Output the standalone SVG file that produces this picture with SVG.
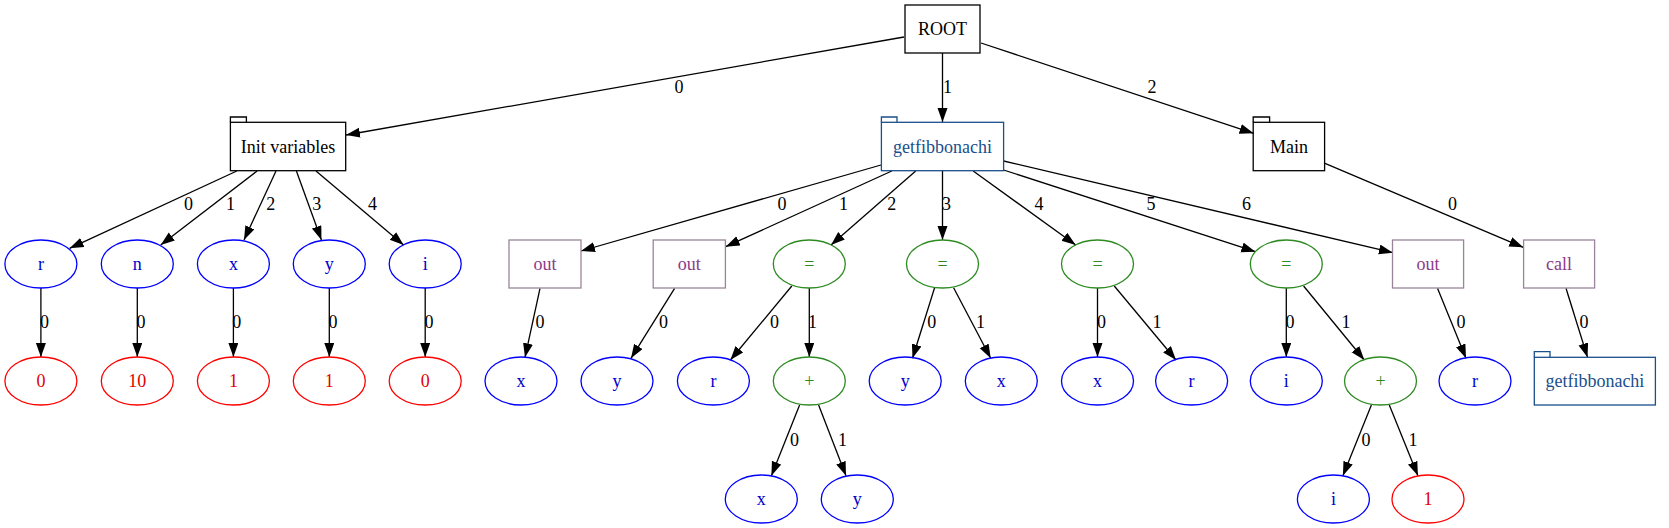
<svg xmlns="http://www.w3.org/2000/svg" width="1669" height="528" viewBox="0 0 1669 528" font-family="'Liberation Serif','Times New Roman','DejaVu Serif',serif">
<defs>
<marker id="ah" markerUnits="userSpaceOnUse" markerWidth="16" markerHeight="12" refX="14" refY="5" orient="auto">
<path d="M0,0 L14,5 L0,10 z" fill="#000"/>
</marker>
<style>
text{font-family:'Liberation Serif','Times New Roman','DejaVu Serif',serif;font-size:18px;text-anchor:middle}
.e line{stroke:#000;stroke-width:1.3;marker-end:url(#ah)}
.lbl{fill:#000}
.blk rect,.blk path{fill:none;stroke:#000;stroke-width:1.3}
.blk text{fill:#000}
.fn rect,.fn path{fill:none;stroke:#1a4f8b;stroke-width:1.3}
.fn text{fill:#1a4f8b}
.var ellipse{fill:none;stroke:#0000ff;stroke-width:1.3}
.var text{fill:#0000cc}
.num ellipse{fill:none;stroke:#ff0000;stroke-width:1.3}
.num text{fill:#e00000}
.op ellipse{fill:none;stroke:#2e8b22;stroke-width:1.3}
.op text{fill:#2e8b22}
.io rect{fill:none;stroke:#9a849a;stroke-width:1.3}
.io text{fill:#8b3a8b}
</style>
</defs>
<rect width="1669" height="528" fill="#fff"/>

<g id="connectors" class="e">
<line x1="904" y1="37" x2="346" y2="135"/>
<line x1="942.5" y1="53" x2="942.5" y2="122"/>
<line x1="981" y1="43" x2="1253.6" y2="133.3"/>
<line x1="236.8" y1="171" x2="69.6" y2="248.3"/>
<line x1="257.1" y1="171" x2="160.7" y2="245"/>
<line x1="276" y1="171" x2="244" y2="240"/>
<line x1="296.4" y1="171" x2="321.4" y2="240"/>
<line x1="316" y1="171" x2="403.6" y2="245"/>
<line x1="881" y1="165" x2="581" y2="251"/>
<line x1="891.8" y1="171" x2="725.7" y2="246.7"/>
<line x1="915.7" y1="171" x2="831" y2="245"/>
<line x1="942.5" y1="171" x2="942.5" y2="240"/>
<line x1="973.2" y1="171" x2="1075.7" y2="245"/>
<line x1="1003.6" y1="170" x2="1255.4" y2="251.7"/>
<line x1="1003.6" y1="161" x2="1392.9" y2="252.7"/>
<line x1="1325" y1="163.3" x2="1523.2" y2="247.3"/>
<line x1="40.9" y1="288" x2="40.9" y2="357"/>
<line x1="137.3" y1="288" x2="137.3" y2="357"/>
<line x1="233.4" y1="288" x2="233.4" y2="357"/>
<line x1="329.3" y1="288" x2="329.3" y2="357"/>
<line x1="425.2" y1="288" x2="425.2" y2="357"/>
<line x1="540" y1="288.3" x2="525" y2="357.3"/>
<line x1="674.6" y1="288.3" x2="631" y2="358.3"/>
<line x1="791.8" y1="286" x2="730.4" y2="360"/>
<line x1="809.3" y1="288" x2="809.3" y2="357"/>
<line x1="934.6" y1="287.7" x2="912.5" y2="358.3"/>
<line x1="953.6" y1="287.7" x2="990.7" y2="358.3"/>
<line x1="1097.5" y1="288" x2="1097.5" y2="357"/>
<line x1="1114.3" y1="286" x2="1176" y2="360"/>
<line x1="1286.3" y1="288" x2="1286.3" y2="357"/>
<line x1="1303.6" y1="286" x2="1364.3" y2="360"/>
<line x1="1437.5" y1="288.3" x2="1466" y2="358.3"/>
<line x1="1566" y1="288.3" x2="1587.5" y2="357.3"/>
<line x1="799.6" y1="405" x2="771.4" y2="475.7"/>
<line x1="818.6" y1="405" x2="846" y2="475.7"/>
<line x1="1371.4" y1="405" x2="1342.9" y2="475.7"/>
<line x1="1389.3" y1="405" x2="1417.9" y2="475.7"/>
<g class="lbl">
<text x="679" y="93">0</text>
<text x="947.5" y="93">1</text>
<text x="1152" y="93">2</text>
<text x="188.6" y="210">0</text>
<text x="230.4" y="210">1</text>
<text x="270.7" y="210">2</text>
<text x="316.8" y="210">3</text>
<text x="372.5" y="210">4</text>
<text x="782" y="210">0</text>
<text x="843.6" y="210">1</text>
<text x="891.8" y="210">2</text>
<text x="946.4" y="210">3</text>
<text x="1039" y="210">4</text>
<text x="1151" y="210">5</text>
<text x="1246.4" y="210">6</text>
<text x="1452.5" y="210">0</text>
<text x="44.6" y="328">0</text>
<text x="141" y="328">0</text>
<text x="236.8" y="328">0</text>
<text x="332.9" y="328">0</text>
<text x="428.9" y="328">0</text>
<text x="540" y="328">0</text>
<text x="663.6" y="328">0</text>
<text x="774.6" y="328">0</text>
<text x="812.5" y="328">1</text>
<text x="931.8" y="328">0</text>
<text x="980.4" y="328">1</text>
<text x="1101.5" y="328">0</text>
<text x="1157" y="328">1</text>
<text x="1290" y="328">0</text>
<text x="1346" y="328">1</text>
<text x="1461" y="328">0</text>
<text x="1584" y="328">0</text>
<text x="794.6" y="445.5">0</text>
<text x="842.5" y="445.5">1</text>
<text x="1366" y="445.5">0</text>
<text x="1413" y="445.5">1</text>
</g>
</g>

<g id="root" class="blk"><rect x="905" y="5" width="75" height="48"/><text x="942.5" y="35">ROOT</text></g>
<g id="init" class="blk"><path d="M230.4,122.3 V117 H246.4 V122.3"/><rect x="230.4" y="122.3" width="115.3" height="48.4"/><text x="288" y="152.5">Init variables</text></g>
<g id="getfib" class="fn"><path d="M881.4,122.3 V117 H897 V122.3"/><rect x="881.4" y="122.3" width="122.2" height="48.4"/><text x="942.5" y="152.5">getfibbonachi</text></g>
<g id="main" class="blk"><path d="M1253.2,122.3 V117 H1269.6 V122.3"/><rect x="1253.2" y="122.3" width="71.4" height="48.4"/><text x="1289" y="152.5">Main</text></g>

<g id="r1" class="var"><ellipse cx="40.9" cy="264" rx="36" ry="24"/><text x="40.9" y="270">r</text></g>
<g id="n1" class="var"><ellipse cx="137.3" cy="264" rx="36" ry="24"/><text x="137.3" y="270">n</text></g>
<g id="x1" class="var"><ellipse cx="233.4" cy="264" rx="36" ry="24"/><text x="233.4" y="270">x</text></g>
<g id="y1" class="var"><ellipse cx="329.3" cy="264" rx="36" ry="24"/><text x="329.3" y="270">y</text></g>
<g id="i1" class="var"><ellipse cx="425.2" cy="264" rx="36" ry="24"/><text x="425.2" y="270">i</text></g>
<g id="out1" class="io"><rect x="509" y="240" width="72" height="48"/><text x="545" y="270">out</text></g>
<g id="out2" class="io"><rect x="653.2" y="240" width="72.2" height="48"/><text x="689.3" y="270">out</text></g>
<g id="eq2" class="op"><ellipse cx="809.3" cy="264" rx="36" ry="24"/><text x="809.3" y="270">=</text></g>
<g id="eq3" class="op"><ellipse cx="942.5" cy="264" rx="36" ry="24"/><text x="942.5" y="270">=</text></g>
<g id="eq4" class="op"><ellipse cx="1097.5" cy="264" rx="36" ry="24"/><text x="1097.5" y="270">=</text></g>
<g id="eq5" class="op"><ellipse cx="1286.3" cy="264" rx="36" ry="24"/><text x="1286.3" y="270">=</text></g>
<g id="out6" class="io"><rect x="1392.5" y="240" width="71.1" height="48"/><text x="1428" y="270">out</text></g>
<g id="call" class="io"><rect x="1523.6" y="240" width="71" height="48"/><text x="1559" y="270">call</text></g>

<g id="v0a" class="num"><ellipse cx="40.9" cy="381" rx="36" ry="24"/><text x="40.9" y="387">0</text></g>
<g id="v10" class="num"><ellipse cx="137.3" cy="381" rx="36" ry="24"/><text x="137.3" y="387">10</text></g>
<g id="v1a" class="num"><ellipse cx="233.4" cy="381" rx="36" ry="24"/><text x="233.4" y="387">1</text></g>
<g id="v1b" class="num"><ellipse cx="329.3" cy="381" rx="36" ry="24"/><text x="329.3" y="387">1</text></g>
<g id="v0b" class="num"><ellipse cx="425.2" cy="381" rx="36" ry="24"/><text x="425.2" y="387">0</text></g>
<g id="x2" class="var"><ellipse cx="521" cy="381" rx="36" ry="24"/><text x="521" y="387">x</text></g>
<g id="y2" class="var"><ellipse cx="617" cy="381" rx="36" ry="24"/><text x="617" y="387">y</text></g>
<g id="r2" class="var"><ellipse cx="713.4" cy="381" rx="36" ry="24"/><text x="713.4" y="387">r</text></g>
<g id="plus1" class="op"><ellipse cx="809.3" cy="381" rx="36" ry="24"/><text x="809.3" y="387">+</text></g>
<g id="y3" class="var"><ellipse cx="905.2" cy="381" rx="36" ry="24"/><text x="905.2" y="387">y</text></g>
<g id="x3" class="var"><ellipse cx="1001.3" cy="381" rx="36" ry="24"/><text x="1001.3" y="387">x</text></g>
<g id="x4" class="var"><ellipse cx="1097.5" cy="381" rx="36" ry="24"/><text x="1097.5" y="387">x</text></g>
<g id="r4" class="var"><ellipse cx="1191.6" cy="381" rx="36" ry="24"/><text x="1191.6" y="387">r</text></g>
<g id="i5" class="var"><ellipse cx="1286.3" cy="381" rx="36" ry="24"/><text x="1286.3" y="387">i</text></g>
<g id="plus2" class="op"><ellipse cx="1380.5" cy="381" rx="36" ry="24"/><text x="1380.5" y="387">+</text></g>
<g id="r6" class="var"><ellipse cx="1475" cy="381" rx="36" ry="24"/><text x="1475" y="387">r</text></g>
<g id="getfib2" class="fn"><path d="M1534.3,357.3 V351.7 H1550 V357.3"/><rect x="1534.3" y="357.3" width="121.1" height="47.7"/><text x="1594.9" y="387">getfibbonachi</text></g>

<g id="x5" class="var"><ellipse cx="761.3" cy="499" rx="36" ry="24"/><text x="761.3" y="505">x</text></g>
<g id="y5" class="var"><ellipse cx="857.3" cy="499" rx="36" ry="24"/><text x="857.3" y="505">y</text></g>
<g id="i6" class="var"><ellipse cx="1333.4" cy="499" rx="36" ry="24"/><text x="1333.4" y="505">i</text></g>
<g id="v1c" class="num"><ellipse cx="1428" cy="499" rx="36" ry="24"/><text x="1428" y="505">1</text></g>
</svg>
